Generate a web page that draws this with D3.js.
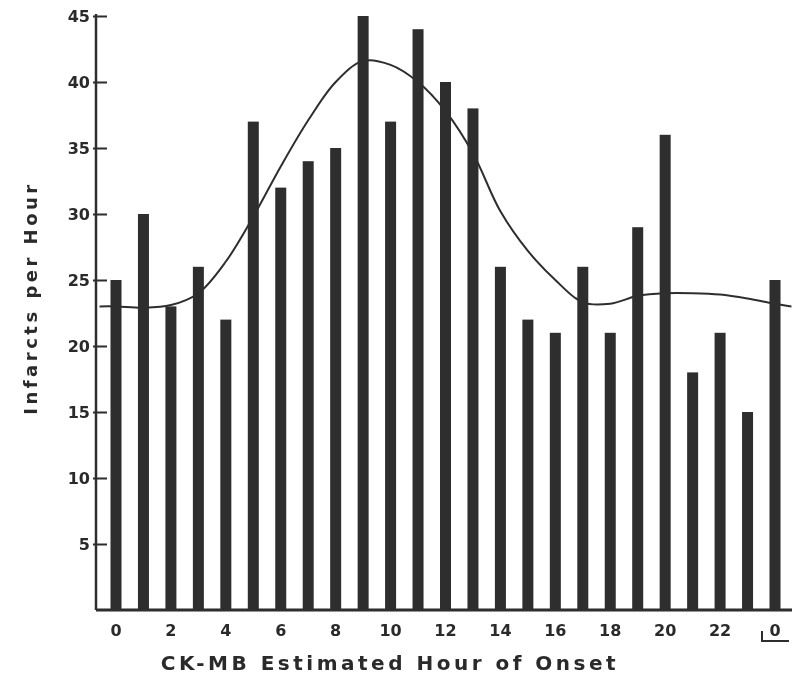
<!DOCTYPE html>
<html>
<head>
<meta charset="utf-8">
<script src="https://cdn.jsdelivr.net/npm/d3@7"></script>
<style>
  body { margin: 0; background: #fff; }
  text { font-family: "DejaVu Sans", sans-serif; fill: #2a2a2a; }
</style>
</head>
<body>
<svg id="chart"></svg>
<script>
// hourly counts, hour 0 .. 23 then hour 0 again
const hours = d3.range(25);
const infarcts = [25, 30, 23, 26, 22, 37, 32, 34, 35, 45, 37, 44, 40, 38, 26, 22, 21, 26, 21, 29, 36, 18, 21, 15, 25];
const hourLabels = ["0", "2", "4", "6", "8", "10", "12", "14", "16", "18", "20", "22", "0"];
const yTicks = [5, 10, 15, 20, 25, 30, 35, 40, 45];

// fitted curve
const curveHours = [-0.6, 0, 1, 2, 3, 4, 5, 6, 7, 8, 9, 10, 11, 12, 13, 14, 15, 16, 17, 18, 19, 20, 21, 22, 23, 24, 24.6];
const curveValues = [23, 23, 22.9, 23.1, 24, 26.4, 29.8, 33.6, 37.1, 40, 41.6, 41.3, 40, 37.8, 34.6, 30.2, 27.2, 25, 23.3, 23.2, 23.8, 24, 24, 23.9, 23.6, 23.2, 23];

const config = {
    width: 792,
    height: 677,
    margin: { top: 16, right: 2, bottom: 67, left: 96 },
    ink: "#2e2e2e",
};

const svg = d3.select("#chart")
    .attr("width", config.width)
    .attr("height", config.height);

// soft edges like a scanned print
const defs = svg.append("defs");
defs.append("filter").attr("id", "scan")
    .append("feGaussianBlur").attr("stdDeviation", 0.6);

const chart = svg.append("g").attr("filter", "url(#scan)");

const x = d3.scaleLinear()
    .domain([0, 24])
    .range([116, 775]);

const y = d3.scaleLinear()
    .domain([0, 45])
    .range([config.height - config.margin.bottom, config.margin.top]);

const barWidth = 11;

// bars
chart.selectAll(".bar")
    .data(infarcts)
    .join("rect")
    .attr("class", "bar")
    .attr("x", (d, i) => x(hours[i]) - barWidth / 2)
    .attr("y", d => y(d))
    .attr("width", barWidth)
    .attr("height", d => y(0) - y(d))
    .attr("fill", config.ink);

// y axis
const yAxis = chart.append("g")
    .attr("transform", `translate(${config.margin.left},0)`)
    .call(d3.axisLeft(y).tickValues(yTicks).tickSize(0).tickPadding(6));
yAxis.select(".domain").remove();
yAxis.selectAll("text")
    .style("font-size", "16px")
    .style("font-weight", "bold")
    .attr("fill", config.ink);
yAxis.selectAll(".tick").append("line")
    .attr("x1", -3).attr("x2", 11)
    .attr("stroke", config.ink).attr("stroke-width", 2);

chart.append("line")
    .attr("x1", config.margin.left).attr("x2", config.margin.left)
    .attr("y1", y(45) - 2).attr("y2", y(0))
    .attr("stroke", config.ink).attr("stroke-width", 2.5);

// baseline
chart.append("line")
    .attr("x1", config.margin.left).attr("x2", config.width)
    .attr("y1", y(0)).attr("y2", y(0))
    .attr("stroke", config.ink).attr("stroke-width", 3);

// x tick labels every two hours
chart.selectAll(".xlabel")
    .data(hourLabels)
    .join("text")
    .attr("class", "xlabel")
    .attr("x", (d, i) => x(i * 2))
    .attr("y", y(0) + 26)
    .attr("text-anchor", "middle")
    .style("font-size", "16px")
    .style("font-weight", "bold")
    .text(d => d);

// small bracket under the final 0
const lastX = x(24);
chart.append("path")
    .attr("d", `M${lastX - 13},${y(0) + 21} L${lastX - 13},${y(0) + 31} L${lastX + 14},${y(0) + 31}`)
    .attr("fill", "none")
    .attr("stroke", config.ink)
    .attr("stroke-width", 2);

// fitted curve
const line = d3.line()
    .x((d, i) => x(curveHours[i]))
    .y(d => y(d))
    .curve(d3.curveCatmullRom.alpha(0.5));

chart.append("path")
    .datum(curveValues)
    .attr("d", line)
    .attr("fill", "none")
    .attr("stroke", config.ink)
    .attr("stroke-width", 2);

// axis titles
chart.append("text")
    .attr("x", 390)
    .attr("y", 670)
    .attr("text-anchor", "middle")
    .style("font-size", "20px")
    .style("font-weight", "bold")
    .style("letter-spacing", "3.5px")
    .text("CK-MB Estimated Hour of Onset");

chart.append("text")
    .attr("transform", "translate(37,298) rotate(-90)")
    .attr("text-anchor", "middle")
    .style("font-size", "18px")
    .style("font-weight", "bold")
    .style("letter-spacing", "3.5px")
    .text("Infarcts per Hour");
</script>
</body>
</html>
